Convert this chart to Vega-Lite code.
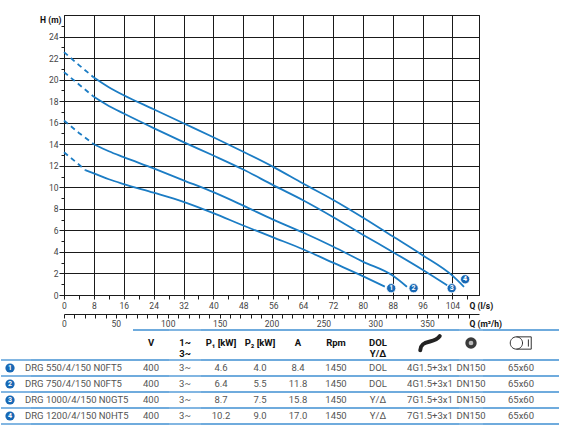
{
  "$schema": "https://vega.github.io/schema/vega-lite/v6.json",
  "background": "white",
  "padding": {"left": 0, "top": 14, "right": 0, "bottom": 0},
  "config": {
    "font": "Roboto",
    "view": {"stroke": null},
    "axis": {"labelOverlap": false, "labelFlush": false}
  },
  "datasets": {
    "curves": [
      {"pump": "4", "seg": "dashed", "Q": 0, "H": 22.55},
      {"pump": "4", "seg": "dashed", "Q": 4, "H": 21.35},
      {"pump": "4", "seg": "dashed", "Q": 8, "H": 20.2},
      {"pump": "4", "seg": "solid", "Q": 8, "H": 20.2},
      {"pump": "4", "seg": "solid", "Q": 12, "H": 19.3},
      {"pump": "4", "seg": "solid", "Q": 16, "H": 18.55},
      {"pump": "4", "seg": "solid", "Q": 24, "H": 17.25},
      {"pump": "4", "seg": "solid", "Q": 32, "H": 15.95},
      {"pump": "4", "seg": "solid", "Q": 40, "H": 14.65},
      {"pump": "4", "seg": "solid", "Q": 48, "H": 13.3},
      {"pump": "4", "seg": "solid", "Q": 56, "H": 11.9},
      {"pump": "4", "seg": "solid", "Q": 64, "H": 10.35},
      {"pump": "4", "seg": "solid", "Q": 72, "H": 8.85},
      {"pump": "4", "seg": "solid", "Q": 80, "H": 7.2},
      {"pump": "4", "seg": "solid", "Q": 88, "H": 5.45},
      {"pump": "4", "seg": "solid", "Q": 96, "H": 3.7},
      {"pump": "4", "seg": "solid", "Q": 104, "H": 1.8},
      {"pump": "4", "seg": "solid", "Q": 107.1, "H": 0.76},
      {"pump": "3", "seg": "dashed", "Q": 0, "H": 20.7},
      {"pump": "3", "seg": "dashed", "Q": 4, "H": 19.55},
      {"pump": "3", "seg": "dashed", "Q": 8, "H": 18.4},
      {"pump": "3", "seg": "solid", "Q": 8, "H": 18.4},
      {"pump": "3", "seg": "solid", "Q": 12, "H": 17.55},
      {"pump": "3", "seg": "solid", "Q": 16, "H": 16.85},
      {"pump": "3", "seg": "solid", "Q": 24, "H": 15.5},
      {"pump": "3", "seg": "solid", "Q": 32, "H": 14.2},
      {"pump": "3", "seg": "solid", "Q": 40, "H": 12.95},
      {"pump": "3", "seg": "solid", "Q": 48, "H": 11.65},
      {"pump": "3", "seg": "solid", "Q": 56, "H": 10.2},
      {"pump": "3", "seg": "solid", "Q": 64, "H": 8.8},
      {"pump": "3", "seg": "solid", "Q": 72, "H": 7.25},
      {"pump": "3", "seg": "solid", "Q": 80, "H": 5.6},
      {"pump": "3", "seg": "solid", "Q": 88, "H": 4.0},
      {"pump": "3", "seg": "solid", "Q": 96, "H": 2.35},
      {"pump": "3", "seg": "solid", "Q": 102.6, "H": 0.9},
      {"pump": "2", "seg": "dashed", "Q": 0, "H": 16.2},
      {"pump": "2", "seg": "dashed", "Q": 4, "H": 15.05},
      {"pump": "2", "seg": "dashed", "Q": 8, "H": 14.0},
      {"pump": "2", "seg": "solid", "Q": 8, "H": 14.0},
      {"pump": "2", "seg": "solid", "Q": 12, "H": 13.35},
      {"pump": "2", "seg": "solid", "Q": 16, "H": 12.8},
      {"pump": "2", "seg": "solid", "Q": 24, "H": 11.75},
      {"pump": "2", "seg": "solid", "Q": 32, "H": 10.65},
      {"pump": "2", "seg": "solid", "Q": 40, "H": 9.55},
      {"pump": "2", "seg": "solid", "Q": 48, "H": 8.3},
      {"pump": "2", "seg": "solid", "Q": 56, "H": 7.0},
      {"pump": "2", "seg": "solid", "Q": 64, "H": 5.8},
      {"pump": "2", "seg": "solid", "Q": 72, "H": 4.5},
      {"pump": "2", "seg": "solid", "Q": 80, "H": 3.1},
      {"pump": "2", "seg": "solid", "Q": 88, "H": 1.8},
      {"pump": "2", "seg": "solid", "Q": 91.8, "H": 0.76},
      {"pump": "1", "seg": "dashed", "Q": 0, "H": 13.25},
      {"pump": "1", "seg": "dashed", "Q": 3, "H": 12.4},
      {"pump": "1", "seg": "dashed", "Q": 5.7, "H": 11.6},
      {"pump": "1", "seg": "solid", "Q": 5.7, "H": 11.6},
      {"pump": "1", "seg": "solid", "Q": 8, "H": 11.3},
      {"pump": "1", "seg": "solid", "Q": 12, "H": 10.75},
      {"pump": "1", "seg": "solid", "Q": 16, "H": 10.3},
      {"pump": "1", "seg": "solid", "Q": 24, "H": 9.5},
      {"pump": "1", "seg": "solid", "Q": 32, "H": 8.65},
      {"pump": "1", "seg": "solid", "Q": 40, "H": 7.6},
      {"pump": "1", "seg": "solid", "Q": 48, "H": 6.45},
      {"pump": "1", "seg": "solid", "Q": 56, "H": 5.35},
      {"pump": "1", "seg": "solid", "Q": 64, "H": 4.25},
      {"pump": "1", "seg": "solid", "Q": 72, "H": 3.0},
      {"pump": "1", "seg": "solid", "Q": 80, "H": 1.75},
      {"pump": "1", "seg": "solid", "Q": 85.9, "H": 0.78}
    ],
    "markers": [
      {"pump": "1", "Q": 87.6, "H": 0.63},
      {"pump": "2", "Q": 93.6, "H": 0.63},
      {"pump": "3", "Q": 103.8, "H": 0.63},
      {"pump": "4", "Q": 107.4, "H": 1.46}
    ],
    "pumps": [
      {"n": "1", "model": "DRG 550/4/150 N0FT5", "V": "400", "ph": "3~", "P1": "4.6", "P2": "4.0", "A": "8.4", "rpm": "1450", "start": "DOL", "cable": "4G1.5+3x1", "dn": "DN150", "size": "65x60"},
      {"n": "2", "model": "DRG 750/4/150 N0FT5", "V": "400", "ph": "3~", "P1": "6.4", "P2": "5.5", "A": "11.8", "rpm": "1450", "start": "DOL", "cable": "4G1.5+3x1", "dn": "DN150", "size": "65x60"},
      {"n": "3", "model": "DRG 1000/4/150 N0GT5", "V": "400", "ph": "3~", "P1": "8.7", "P2": "7.5", "A": "15.8", "rpm": "1450", "start": "Y/Δ", "cable": "7G1.5+3x1", "dn": "DN150", "size": "65x60"},
      {"n": "4", "model": "DRG 1200/4/150 N0HT5", "V": "400", "ph": "3~", "P1": "10.2", "P2": "9.0", "A": "17.0", "rpm": "1450", "start": "Y/Δ", "cable": "7G1.5+3x1", "dn": "DN150", "size": "65x60"}
    ]
  },
  "spacing": 0,
  "vconcat": [
    {
      "bounds": "flush",
      "spacing": 0,
      "hconcat": [
        {"width": 63, "height": 280, "data": {"values": []}, "mark": "point", "encoding": {}},
        {
          "width": 415,
          "height": 280,
          "view": {"stroke": "#1a1a1a", "strokeWidth": 1},
          "resolve": {"axis": {"x": "independent", "y": "independent"}},
          "layer": [
            {
              "data": {"name": "markers"},
              "mark": {"type": "point", "opacity": 0},
              "encoding": {
                "x": {
                  "field": "Q", "type": "quantitative",
                  "scale": {"domain": [0, 111.111], "nice": false, "zero": false},
                  "axis": {
                    "orient": "bottom",
                    "values": [8, 16, 24, 32, 40, 48, 56, 64, 72, 80, 88, 96, 104, 111.111],
                    "labels": false, "domain": false, "grid": false,
                    "tickSize": -280, "tickColor": "#1a1a1a", "tickWidth": 1, "title": null
                  }
                },
                "y": {
                  "field": "H", "type": "quantitative",
                  "scale": {"domain": [0, 26], "nice": false},
                  "axis": {
                    "orient": "left",
                    "values": [2, 4, 6, 8, 10, 12, 14, 16, 18, 20, 22, 24, 26],
                    "labels": false, "domain": false, "grid": false,
                    "tickSize": -415, "tickColor": "#1a1a1a", "tickWidth": 1, "title": null
                  }
                }
              }
            },
            {
              "data": {"name": "curves"},
              "transform": [{"filter": "datum.seg === 'solid'"}],
              "mark": {"type": "line", "color": "#1b7cc4", "strokeWidth": 1.8, "interpolate": "monotone"},
              "encoding": {
                "x": {
                  "field": "Q", "type": "quantitative",
                  "axis": {
                    "orient": "bottom",
                    "values": [0, 8, 16, 24, 32, 40, 48, 56, 64, 72, 80, 88, 96, 104],
                    "labelFontSize": 8.5, "labelColor": "#444", "labelPadding": 2,
                    "grid": false,
                    "tickSize": 4, "tickColor": "#1a1a1a", "domainColor": "#1a1a1a",
                    "title": "Q (l/s)", "titleX": 405, "titleY": 10, "titleAlign": "left", "titleBaseline": "middle",
                    "titleAngle": 0, "titleFontSize": 8.5, "titleFontWeight": "bold", "titleColor": "#111"
                  }
                },
                "y": {
                  "field": "H", "type": "quantitative",
                  "axis": {
                    "orient": "left",
                    "values": [0, 2, 4, 6, 8, 10, 12, 14, 16, 18, 20, 22, 24],
                    "labelFontSize": 8.5, "labelColor": "#444", "labelPadding": 1,
                    "grid": false,
                    "tickSize": 5, "tickColor": "#1a1a1a", "domainColor": "#1a1a1a",
                    "title": "H (m)", "titleAngle": 0, "titleX": -3, "titleY": 4, "titleAlign": "right", "titleBaseline": "middle",
                    "titleFontSize": 8.5, "titleFontWeight": "bold", "titleColor": "#111"
                  }
                },
                "detail": {"field": "pump"}
              }
            },
            {
              "data": {"name": "curves"},
              "transform": [{"filter": "datum.seg === 'dashed'"}],
              "mark": {"type": "line", "color": "#1b7cc4", "strokeWidth": 1.8, "strokeDash": [5, 4]},
              "encoding": {
                "x": {"field": "Q", "type": "quantitative", "axis": null},
                "y": {"field": "H", "type": "quantitative", "axis": null},
                "detail": {"field": "pump"}
              }
            },
            {
              "data": {"name": "markers"},
              "mark": {"type": "point", "shape": "circle", "filled": true, "size": 85, "color": "#1768b5", "opacity": 1, "stroke": "white", "strokeWidth": 0.8},
              "encoding": {
                "x": {
                  "field": "Q", "type": "quantitative",
                  "axis": {
                    "orient": "bottom", "offset": 19,
                    "values": [0, 2.7778, 5.5556, 8.3333, 11.1111, 13.8889, 16.6667, 19.4444, 22.2222, 25, 27.7778, 30.5556, 33.3333, 36.1111, 38.8889, 41.6667, 44.4444, 47.2222, 50, 52.7778, 55.5556, 58.3333, 61.1111, 63.8889, 66.6667, 69.4444, 72.2222, 75, 77.7778, 80.5556, 83.3333, 86.1111, 88.8889, 91.6667, 94.4444, 97.2222, 100, 102.7778, 105.5556, 108.3333],
                    "labelExpr": "round(datum.value * 3.6) % 50 === 0 ? format(round(datum.value * 3.6), 'd') : ''",
                    "labelFontSize": 8.5, "labelColor": "#444", "labelPadding": 1,
                    "grid": false,
                    "tickSize": 4, "tickColor": "#1a1a1a", "domainColor": "#1a1a1a",
                    "title": "Q (m³/h)", "titleX": 405, "titleY": 9, "titleAlign": "left", "titleBaseline": "middle",
                    "titleAngle": 0, "titleFontSize": 8.5, "titleFontWeight": "bold", "titleColor": "#111"
                  }
                },
                "y": {"field": "H", "type": "quantitative", "axis": null}
              }
            },
            {
              "data": {"name": "markers"},
              "mark": {"type": "text", "color": "white", "fontSize": 7, "fontWeight": "bold"},
              "encoding": {
                "x": {
                  "field": "Q", "type": "quantitative",
                  "axis": {
                    "orient": "bottom",
                    "values": [4, 12, 20, 28, 36, 44, 52, 60, 68, 76, 84, 92, 100, 108],
                    "labels": false, "domain": false, "grid": false,
                    "tickSize": 4, "tickColor": "#1a1a1a", "title": null
                  }
                },
                "y": {
                  "field": "H", "type": "quantitative",
                  "axis": {
                    "orient": "left",
                    "values": [1, 3, 5, 7, 9, 11, 13, 15, 17, 19, 21, 23, 25],
                    "labels": false, "domain": false, "grid": false,
                    "tickSize": 3, "tickColor": "#1a1a1a", "title": null
                  }
                },
                "text": {"field": "pump"}
              }
            }
          ]
        }
      ]
    },
    {
      "spacing": 0,
      "vconcat": [
        {
          "bounds": "flush",
          "spacing": 0,
          "hconcat": [
            {"width": 132, "height": 26, "data": {"values": []}, "mark": "point", "encoding": {}},
            {"width": 36, "height": 26, "data": {"values": [{}]}, "layer": [
              {"mark": {"type": "rule", "color": "#3f8fd2", "strokeWidth": 1.3}, "encoding": {"y": {"datum": 1, "type": "quantitative", "scale": {"domain": [0, 1]}, "axis": null}}},
              {"mark": {"type": "text", "text": "V", "fontSize": 9.5, "fontWeight": "bold", "color": "#111"}, "encoding": {}}
            ]},
            {"width": 32, "height": 26, "data": {"values": [{}]}, "layer": [
              {"mark": {"type": "rule", "color": "#3f8fd2", "strokeWidth": 1.3}, "encoding": {"y": {"datum": 1, "type": "quantitative", "scale": {"domain": [0, 1]}, "axis": null}}},
              {"mark": {"type": "text", "text": ["1~", "3~"], "lineHeight": 11, "fontSize": 9.5, "fontWeight": "bold", "color": "#111"}, "encoding": {}}
            ]},
            {"width": 40, "height": 26, "data": {"values": [{}]}, "layer": [
              {"mark": {"type": "rule", "color": "#3f8fd2", "strokeWidth": 1.3}, "encoding": {"y": {"datum": 1, "type": "quantitative", "scale": {"domain": [0, 1]}, "axis": null}}},
              {"mark": {"type": "text", "text": "P₁ [kW]", "fontSize": 9.5, "fontWeight": "bold", "color": "#111"}, "encoding": {}}
            ]},
            {"width": 38, "height": 26, "data": {"values": [{}]}, "layer": [
              {"mark": {"type": "rule", "color": "#3f8fd2", "strokeWidth": 1.3}, "encoding": {"y": {"datum": 1, "type": "quantitative", "scale": {"domain": [0, 1]}, "axis": null}}},
              {"mark": {"type": "text", "text": "P₂ [kW]", "fontSize": 9.5, "fontWeight": "bold", "color": "#111"}, "encoding": {}}
            ]},
            {"width": 38, "height": 26, "data": {"values": [{}]}, "layer": [
              {"mark": {"type": "rule", "color": "#3f8fd2", "strokeWidth": 1.3}, "encoding": {"y": {"datum": 1, "type": "quantitative", "scale": {"domain": [0, 1]}, "axis": null}}},
              {"mark": {"type": "text", "text": "A", "fontSize": 9.5, "fontWeight": "bold", "color": "#111"}, "encoding": {}}
            ]},
            {"width": 38, "height": 26, "data": {"values": [{}]}, "layer": [
              {"mark": {"type": "rule", "color": "#3f8fd2", "strokeWidth": 1.3}, "encoding": {"y": {"datum": 1, "type": "quantitative", "scale": {"domain": [0, 1]}, "axis": null}}},
              {"mark": {"type": "text", "text": "Rpm", "fontSize": 9.5, "fontWeight": "bold", "color": "#111"}, "encoding": {}}
            ]},
            {"width": 46, "height": 26, "data": {"values": [{}]}, "layer": [
              {"mark": {"type": "rule", "color": "#3f8fd2", "strokeWidth": 1.3}, "encoding": {"y": {"datum": 1, "type": "quantitative", "scale": {"domain": [0, 1]}, "axis": null}}},
              {"mark": {"type": "text", "text": ["DOL", "Y/Δ"], "lineHeight": 11, "fontSize": 9.5, "fontWeight": "bold", "color": "#111"}, "encoding": {}}
            ]},
            {"width": 58, "height": 26, "data": {"values": [{}]}, "layer": [
              {"mark": {"type": "rule", "color": "#3f8fd2", "strokeWidth": 1.3}, "encoding": {"y": {"datum": 1, "type": "quantitative", "scale": {"domain": [0, 1]}, "axis": null}}},
              {"mark": {"type": "point", "shape": "M -1 0.75 C -1 0.1 -0.5 -0.05 0 -0.15 C 0.45 -0.25 0.75 -0.35 1 -0.7", "filled": false, "size": 380, "stroke": "#222", "strokeWidth": 4, "strokeCap": "round", "opacity": 1}, "encoding": {}}
            ]},
            {"width": 24, "height": 26, "data": {"values": [{}]}, "layer": [
              {"mark": {"type": "rule", "color": "#3f8fd2", "strokeWidth": 1.3}, "encoding": {"y": {"datum": 1, "type": "quantitative", "scale": {"domain": [0, 1]}, "axis": null}}},
              {"mark": {"type": "point", "shape": "circle", "filled": true, "size": 130, "color": "#3a3a3a", "opacity": 1}, "encoding": {}},
              {"mark": {"type": "point", "shape": "circle", "filled": true, "size": 22, "color": "#bbbbbb", "opacity": 1}, "encoding": {}}
            ]},
            {"width": 76, "height": 26, "data": {"values": [{}]}, "layer": [
              {"mark": {"type": "rule", "color": "#3f8fd2", "strokeWidth": 1.3}, "encoding": {"y": {"datum": 1, "type": "quantitative", "scale": {"domain": [0, 1]}, "axis": null}}},
              {"mark": {"type": "point", "shape": "M -0.45 -0.6 L 1 -0.6 L 1 0.6 L -0.45 0.6 M 0.72 -0.35 L 0.72 0.35 M -0.45 -0.6 A 0.6 0.6 0 1 0 -0.45 0.6 A 0.6 0.6 0 1 0 -0.45 -0.6", "filled": false, "size": 420, "stroke": "#333", "strokeWidth": 1, "opacity": 1}, "encoding": {}}
            ]}
          ]
        },
        {
          "bounds": "flush",
          "spacing": 0,
          "data": {"name": "pumps"},
          "hconcat": [
            {"width": 18, "height": 64, "layer": [
              {"mark": {"type": "rule", "color": "#3f8fd2", "strokeWidth": 1.3}, "encoding": {"y": {"field": "n", "type": "nominal", "bandPosition": 0, "scale": {"type": "band", "paddingInner": 0, "paddingOuter": 0}, "axis": null}}},
              {"transform": [{"filter": "datum.n === '4'"}], "mark": {"type": "rule", "color": "#3f8fd2", "strokeWidth": 1.3}, "encoding": {"y": {"field": "n", "type": "nominal", "bandPosition": 1, "scale": {"type": "band", "paddingInner": 0, "paddingOuter": 0}, "axis": null}}},
              {"mark": {"type": "point", "shape": "circle", "filled": true, "size": 85, "color": "#1768b5", "opacity": 1}, "encoding": {"y": {"field": "n", "type": "nominal", "scale": {"type": "band", "paddingInner": 0, "paddingOuter": 0}, "axis": null}}},
              {"mark": {"type": "text", "color": "white", "fontSize": 7, "fontWeight": "bold"}, "encoding": {"y": {"field": "n", "type": "nominal", "scale": {"type": "band", "paddingInner": 0, "paddingOuter": 0}, "axis": null}, "text": {"field": "n"}}}
            ]},
            {"width": 12, "height": 64, "layer": [
              {"mark": {"type": "rule", "color": "#3f8fd2", "strokeWidth": 1.3}, "encoding": {"y": {"field": "n", "type": "nominal", "bandPosition": 0, "scale": {"type": "band", "paddingInner": 0, "paddingOuter": 0}, "axis": null}}},
              {"transform": [{"filter": "datum.n === '4'"}], "mark": {"type": "rule", "color": "#3f8fd2", "strokeWidth": 1.3}, "encoding": {"y": {"field": "n", "type": "nominal", "bandPosition": 1, "scale": {"type": "band", "paddingInner": 0, "paddingOuter": 0}, "axis": null}}},
              {"mark": {"type": "text", "align": "left", "fontSize": 9.5, "color": "#555"}, "encoding": {"y": {"field": "n", "type": "nominal", "scale": {"type": "band", "paddingInner": 0, "paddingOuter": 0}, "axis": null}, "text": {"field": "model"}}}
            ]},
            {"width": 102, "height": 64, "layer": [
              {"mark": {"type": "rule", "color": "#3f8fd2", "strokeWidth": 1.3}, "encoding": {"y": {"field": "n", "type": "nominal", "bandPosition": 0, "scale": {"type": "band", "paddingInner": 0, "paddingOuter": 0}, "axis": null}}},
              {"transform": [{"filter": "datum.n === '4'"}], "mark": {"type": "rule", "color": "#3f8fd2", "strokeWidth": 1.3}, "encoding": {"y": {"field": "n", "type": "nominal", "bandPosition": 1, "scale": {"type": "band", "paddingInner": 0, "paddingOuter": 0}, "axis": null}}}
            ]},
            {"width": 36, "height": 64, "layer": [
              {"mark": {"type": "rule", "color": "#3f8fd2", "strokeWidth": 1.3}, "encoding": {"y": {"field": "n", "type": "nominal", "bandPosition": 0, "scale": {"type": "band", "paddingInner": 0, "paddingOuter": 0}, "axis": null}}},
              {"transform": [{"filter": "datum.n === '4'"}], "mark": {"type": "rule", "color": "#3f8fd2", "strokeWidth": 1.3}, "encoding": {"y": {"field": "n", "type": "nominal", "bandPosition": 1, "scale": {"type": "band", "paddingInner": 0, "paddingOuter": 0}, "axis": null}}},
              {"mark": {"type": "text", "fontSize": 9.5, "color": "#555"}, "encoding": {"y": {"field": "n", "type": "nominal", "scale": {"type": "band", "paddingInner": 0, "paddingOuter": 0}, "axis": null}, "text": {"field": "V"}}}
            ]},
            {"width": 32, "height": 64, "layer": [
              {"mark": {"type": "rule", "color": "#3f8fd2", "strokeWidth": 1.3}, "encoding": {"y": {"field": "n", "type": "nominal", "bandPosition": 0, "scale": {"type": "band", "paddingInner": 0, "paddingOuter": 0}, "axis": null}}},
              {"transform": [{"filter": "datum.n === '4'"}], "mark": {"type": "rule", "color": "#3f8fd2", "strokeWidth": 1.3}, "encoding": {"y": {"field": "n", "type": "nominal", "bandPosition": 1, "scale": {"type": "band", "paddingInner": 0, "paddingOuter": 0}, "axis": null}}},
              {"mark": {"type": "text", "fontSize": 9.5, "color": "#555"}, "encoding": {"y": {"field": "n", "type": "nominal", "scale": {"type": "band", "paddingInner": 0, "paddingOuter": 0}, "axis": null}, "text": {"field": "ph"}}}
            ]},
            {"width": 40, "height": 64, "layer": [
              {"mark": {"type": "rule", "color": "#3f8fd2", "strokeWidth": 1.3}, "encoding": {"y": {"field": "n", "type": "nominal", "bandPosition": 0, "scale": {"type": "band", "paddingInner": 0, "paddingOuter": 0}, "axis": null}}},
              {"transform": [{"filter": "datum.n === '4'"}], "mark": {"type": "rule", "color": "#3f8fd2", "strokeWidth": 1.3}, "encoding": {"y": {"field": "n", "type": "nominal", "bandPosition": 1, "scale": {"type": "band", "paddingInner": 0, "paddingOuter": 0}, "axis": null}}},
              {"mark": {"type": "text", "fontSize": 9.5, "color": "#555"}, "encoding": {"y": {"field": "n", "type": "nominal", "scale": {"type": "band", "paddingInner": 0, "paddingOuter": 0}, "axis": null}, "text": {"field": "P1"}}}
            ]},
            {"width": 38, "height": 64, "layer": [
              {"mark": {"type": "rule", "color": "#3f8fd2", "strokeWidth": 1.3}, "encoding": {"y": {"field": "n", "type": "nominal", "bandPosition": 0, "scale": {"type": "band", "paddingInner": 0, "paddingOuter": 0}, "axis": null}}},
              {"transform": [{"filter": "datum.n === '4'"}], "mark": {"type": "rule", "color": "#3f8fd2", "strokeWidth": 1.3}, "encoding": {"y": {"field": "n", "type": "nominal", "bandPosition": 1, "scale": {"type": "band", "paddingInner": 0, "paddingOuter": 0}, "axis": null}}},
              {"mark": {"type": "text", "fontSize": 9.5, "color": "#555"}, "encoding": {"y": {"field": "n", "type": "nominal", "scale": {"type": "band", "paddingInner": 0, "paddingOuter": 0}, "axis": null}, "text": {"field": "P2"}}}
            ]},
            {"width": 38, "height": 64, "layer": [
              {"mark": {"type": "rule", "color": "#3f8fd2", "strokeWidth": 1.3}, "encoding": {"y": {"field": "n", "type": "nominal", "bandPosition": 0, "scale": {"type": "band", "paddingInner": 0, "paddingOuter": 0}, "axis": null}}},
              {"transform": [{"filter": "datum.n === '4'"}], "mark": {"type": "rule", "color": "#3f8fd2", "strokeWidth": 1.3}, "encoding": {"y": {"field": "n", "type": "nominal", "bandPosition": 1, "scale": {"type": "band", "paddingInner": 0, "paddingOuter": 0}, "axis": null}}},
              {"mark": {"type": "text", "fontSize": 9.5, "color": "#555"}, "encoding": {"y": {"field": "n", "type": "nominal", "scale": {"type": "band", "paddingInner": 0, "paddingOuter": 0}, "axis": null}, "text": {"field": "A"}}}
            ]},
            {"width": 38, "height": 64, "layer": [
              {"mark": {"type": "rule", "color": "#3f8fd2", "strokeWidth": 1.3}, "encoding": {"y": {"field": "n", "type": "nominal", "bandPosition": 0, "scale": {"type": "band", "paddingInner": 0, "paddingOuter": 0}, "axis": null}}},
              {"transform": [{"filter": "datum.n === '4'"}], "mark": {"type": "rule", "color": "#3f8fd2", "strokeWidth": 1.3}, "encoding": {"y": {"field": "n", "type": "nominal", "bandPosition": 1, "scale": {"type": "band", "paddingInner": 0, "paddingOuter": 0}, "axis": null}}},
              {"mark": {"type": "text", "fontSize": 9.5, "color": "#555"}, "encoding": {"y": {"field": "n", "type": "nominal", "scale": {"type": "band", "paddingInner": 0, "paddingOuter": 0}, "axis": null}, "text": {"field": "rpm"}}}
            ]},
            {"width": 46, "height": 64, "layer": [
              {"mark": {"type": "rule", "color": "#3f8fd2", "strokeWidth": 1.3}, "encoding": {"y": {"field": "n", "type": "nominal", "bandPosition": 0, "scale": {"type": "band", "paddingInner": 0, "paddingOuter": 0}, "axis": null}}},
              {"transform": [{"filter": "datum.n === '4'"}], "mark": {"type": "rule", "color": "#3f8fd2", "strokeWidth": 1.3}, "encoding": {"y": {"field": "n", "type": "nominal", "bandPosition": 1, "scale": {"type": "band", "paddingInner": 0, "paddingOuter": 0}, "axis": null}}},
              {"mark": {"type": "text", "fontSize": 9.5, "color": "#555"}, "encoding": {"y": {"field": "n", "type": "nominal", "scale": {"type": "band", "paddingInner": 0, "paddingOuter": 0}, "axis": null}, "text": {"field": "start"}}}
            ]},
            {"width": 58, "height": 64, "layer": [
              {"mark": {"type": "rule", "color": "#3f8fd2", "strokeWidth": 1.3}, "encoding": {"y": {"field": "n", "type": "nominal", "bandPosition": 0, "scale": {"type": "band", "paddingInner": 0, "paddingOuter": 0}, "axis": null}}},
              {"transform": [{"filter": "datum.n === '4'"}], "mark": {"type": "rule", "color": "#3f8fd2", "strokeWidth": 1.3}, "encoding": {"y": {"field": "n", "type": "nominal", "bandPosition": 1, "scale": {"type": "band", "paddingInner": 0, "paddingOuter": 0}, "axis": null}}},
              {"mark": {"type": "text", "fontSize": 9.5, "color": "#555"}, "encoding": {"y": {"field": "n", "type": "nominal", "scale": {"type": "band", "paddingInner": 0, "paddingOuter": 0}, "axis": null}, "text": {"field": "cable"}}}
            ]},
            {"width": 24, "height": 64, "layer": [
              {"mark": {"type": "rule", "color": "#3f8fd2", "strokeWidth": 1.3}, "encoding": {"y": {"field": "n", "type": "nominal", "bandPosition": 0, "scale": {"type": "band", "paddingInner": 0, "paddingOuter": 0}, "axis": null}}},
              {"transform": [{"filter": "datum.n === '4'"}], "mark": {"type": "rule", "color": "#3f8fd2", "strokeWidth": 1.3}, "encoding": {"y": {"field": "n", "type": "nominal", "bandPosition": 1, "scale": {"type": "band", "paddingInner": 0, "paddingOuter": 0}, "axis": null}}},
              {"mark": {"type": "text", "fontSize": 9.5, "color": "#555"}, "encoding": {"y": {"field": "n", "type": "nominal", "scale": {"type": "band", "paddingInner": 0, "paddingOuter": 0}, "axis": null}, "text": {"field": "dn"}}}
            ]},
            {"width": 76, "height": 64, "layer": [
              {"mark": {"type": "rule", "color": "#3f8fd2", "strokeWidth": 1.3}, "encoding": {"y": {"field": "n", "type": "nominal", "bandPosition": 0, "scale": {"type": "band", "paddingInner": 0, "paddingOuter": 0}, "axis": null}}},
              {"transform": [{"filter": "datum.n === '4'"}], "mark": {"type": "rule", "color": "#3f8fd2", "strokeWidth": 1.3}, "encoding": {"y": {"field": "n", "type": "nominal", "bandPosition": 1, "scale": {"type": "band", "paddingInner": 0, "paddingOuter": 0}, "axis": null}}},
              {"mark": {"type": "text", "fontSize": 9.5, "color": "#555"}, "encoding": {"y": {"field": "n", "type": "nominal", "scale": {"type": "band", "paddingInner": 0, "paddingOuter": 0}, "axis": null}, "text": {"field": "size"}}}
            ]}
          ]
        }
      ]
    }
  ]
}
